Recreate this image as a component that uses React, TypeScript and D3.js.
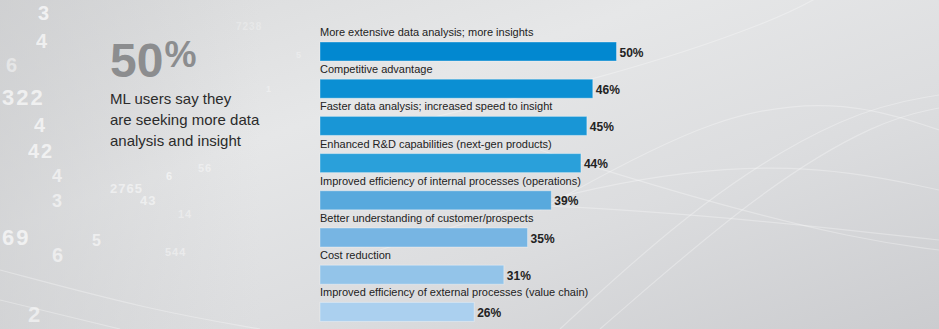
import React from "react";
import * as d3 from "d3";

const categories = [
  "More extensive data analysis; more insights",
  "Competitive advantage",
  "Faster data analysis; increased speed to insight",
  "Enhanced R&D capabilities (next-gen products)",
  "Improved efficiency of internal processes (operations)",
  "Better understanding of customer/prospects",
  "Cost reduction",
  "Improved efficiency of external processes (value chain)",
];
const values = [50, 46, 45, 44, 39, 35, 31, 26];
const barColors = ["#0288d0", "#0b8fd3", "#1996d6", "#2aa0da", "#58a9dd", "#77b5e3", "#93c4e9", "#abd0ef"];
const headline = "50";
const headlineUnit = "%";
const subLines = ["ML users say they", "are seeking more data", "analysis and insight"];

// decorative background digits
const bgDigits: [string, number, number, number, number][] = [
  ["3", 38, 20, 20, 0.7], ["4", 36, 48, 20, 0.65], ["6", 6, 72, 20, 0.45], ["322", 2, 105, 22, 0.65],
  ["4", 34, 132, 20, 0.65], ["42", 28, 158, 20, 0.65], ["4", 52, 182, 18, 0.55], ["3", 52, 207, 18, 0.55],
  ["69", 2, 245, 22, 0.65], ["6", 52, 262, 20, 0.55], ["5", 92, 246, 16, 0.55], ["2", 28, 322, 22, 0.55],
  ["2765", 110, 193, 13, 0.5], ["6", 166, 180, 11, 0.55], ["43", 140, 205, 13, 0.5], ["14", 178, 218, 11, 0.35],
  ["544", 165, 256, 11, 0.4], ["56", 198, 172, 11, 0.4], ["7238", 236, 30, 10, 0.25], ["5", 296, 58, 9, 0.3],
  ["1", 266, 92, 9, 0.35], ["3", 108, 188, 0, 0],
];

const W = 939;
const H = 329;

export default function App() {
  const x = d3.scaleLinear().domain([0, 50]).range([320, 616.5]);
  const y = d3.scaleBand<string>().domain(categories).range([26, 26 + 37.2 * categories.length]).paddingInner(0);
  const barOffset = 16;
  const barH = 19;
  const font = "'Liberation Sans', Arial, sans-serif";

  const curve = d3.line<[number, number]>().curve(d3.curveBasis);
  const curves: [number, number][][] = [
    [[560, 329], [700, 200], [850, 110], [939, 95]],
    [[600, 329], [760, 190], [880, 120], [939, 108]],
    [[420, 120], [600, 80], [780, 20], [830, -10]],
    [[540, 210], [720, 110], [850, 100], [939, 130]],
    [[380, 250], [600, 180], [800, 160], [939, 190]],
    [[0, 270], [150, 310], [260, 329]],
    [[0, 300], [120, 329]],
    [[540, 150], [700, 200], [860, 240], [939, 250]],
    [[420, 200], [650, 210], [850, 230], [939, 240]],
  ];

  return (
    <svg width={W} height={H} style={{ position: "absolute", left: 0, top: 0, display: "block" }}>
      <defs>
        <linearGradient id="bg" x1="0" y1="0" x2="1" y2="1">
          <stop offset="0%" stopColor="#d9dadb" />
          <stop offset="35%" stopColor="#e6e7e8" />
          <stop offset="65%" stopColor="#dcdddf" />
          <stop offset="100%" stopColor="#cbcccf" />
        </linearGradient>
        <linearGradient id="bgL" x1="0" y1="0" x2="1" y2="0">
          <stop offset="0%" stopColor="#c9cacc" stopOpacity={0.6} />
          <stop offset="100%" stopColor="#c9cacc" stopOpacity={0} />
        </linearGradient>
      </defs>
      <rect x={0} y={0} width={W} height={H} fill="url(#bg)" />
      <rect x={0} y={0} width={260} height={H} fill="url(#bgL)" />
      {curves.map((c, i) => (
        <path key={i} d={curve(c) || ""} fill="none" stroke="#ffffff" strokeOpacity={0.3} strokeWidth={1.2} />
      ))}
      <g fontFamily={font} fontWeight="bold" fill="#ffffff">
        {bgDigits
          .filter((d) => d[3] > 0)
          .map(([t, dx, dy, fs, op], i) => (
            <text key={i} x={dx} y={dy} fontSize={fs} opacity={op} letterSpacing={fs > 15 ? 2 : 1}>
              {t}
            </text>
          ))}
      </g>

      <text x={110} y={77} fontFamily={font} fontWeight="bold" fontSize={48} fill="#8c8d8f">
        {headline}
        <tspan fontSize={36} dx={1} dy={-10}>{headlineUnit}</tspan>
      </text>
      <g fontFamily={font} fontSize={15} fill="#2b2b2b">
        {subLines.map((l, i) => (
          <text key={i} x={110} y={104 + i * 21}>
            {l}
          </text>
        ))}
      </g>

      {categories.map((c, i) => {
        const top = y(c) as number;
        const v = values[i];
        return (
          <g key={c}>
            <text x={320} y={top + 10} fontFamily={font} fontSize={11} fill="#222222">
              {c}
            </text>
            <rect
              x={x(0)}
              y={top + barOffset}
              width={x(v) - x(0)}
              height={barH}
              fill={barColors[i]}
              stroke="#ffffff"
              strokeOpacity={0.35}
              strokeWidth={1}
            />
            <text
              x={x(v) + 3}
              y={top + barOffset + barH / 2 + 5}
              fontFamily={font}
              fontSize={12}
              fontWeight="bold"
              fill="#222222"
            >
              {v}%
            </text>
          </g>
        );
      })}
    </svg>
  );
}
